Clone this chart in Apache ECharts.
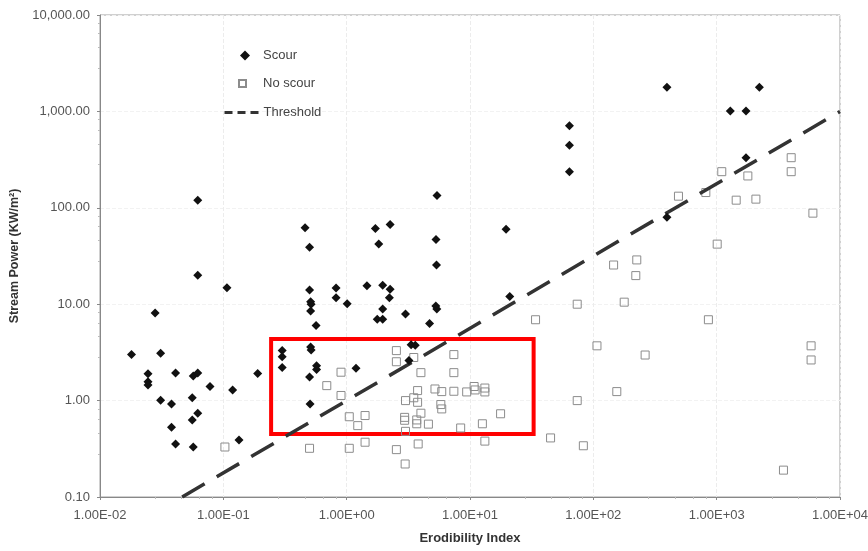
<!DOCTYPE html>
<html>
<head>
<meta charset="utf-8">
<script src="https://cdn.jsdelivr.net/npm/echarts@6/dist/echarts.min.js"></script>
<style>
  html, body { margin: 0; padding: 0; background: #fff; }
  #chart { width: 868px; height: 551px; }
</style>
</head>
<body>
<div id="chart"></div>
<script>
// tick labels (one per decade)
var xTickLabels = ['1.00E-02', '1.00E-01', '1.00E+00', '1.00E+01', '1.00E+02', '1.00E+03', '1.00E+04'];
var yTickLabels = ['0.10', '1.00', '10.00', '100.00', '1,000.00', '10,000.00'];

// [erodibility index, stream power]
var scour = [
  [0.062, 120], [0.062, 20], [0.107, 14.8], [0.028, 8.1], [0.018, 3.0], [0.031, 3.1],
  [0.0245, 1.9], [0.0245, 1.57], [0.0245, 1.45], [0.041, 1.93], [0.057, 1.8], [0.062, 1.93],
  [0.078, 1.4], [0.119, 1.29], [0.19, 1.91], [0.031, 1.01], [0.038, 0.92], [0.056, 1.07],
  [0.062, 0.74], [0.056, 0.63], [0.038, 0.53], [0.041, 0.355], [0.057, 0.33], [0.134, 0.39],
  [0.46, 62], [0.50, 39], [1.71, 61], [2.25, 67], [1.82, 42], [5.4, 134], [5.3, 47], [5.35, 25.5],
  [0.50, 14], [0.51, 10.6], [0.515, 10.0], [0.51, 8.5], [0.565, 6.0], [0.82, 14.7], [0.82, 11.7],
  [1.01, 10.1], [1.46, 15.5], [1.96, 15.7], [2.25, 14.3], [2.22, 11.7], [1.96, 8.9], [1.77, 7.0],
  [1.96, 7.0], [3.0, 7.9], [5.28, 9.6], [5.38, 8.9], [4.7, 6.3],
  [0.30, 3.3], [0.30, 2.85], [0.30, 2.2], [0.51, 3.6], [0.515, 3.35], [0.57, 2.3], [0.57, 2.1],
  [0.50, 1.76], [1.19, 2.16], [0.505, 0.92], [3.33, 3.8], [3.6, 3.75], [3.2, 2.6],
  [19.6, 60], [21, 12], [64, 710], [64, 445], [64, 237], [395, 1780], [2220, 1780],
  [1290, 1010], [1730, 1010], [1730, 330], [395, 80]
];

var noScour = [
  [0.103, 0.33], [0.50, 0.32], [0.69, 1.43], [0.90, 1.97], [0.90, 1.13], [1.05, 0.68], [1.41, 0.70],
  [1.23, 0.55], [1.05, 0.32], [1.41, 0.37], [2.53, 3.3], [2.53, 2.53], [3.5, 2.8], [4.0, 1.95],
  [7.4, 3.0], [7.4, 1.95], [3.76, 1.27], [5.2, 1.32], [5.9, 1.24], [7.4, 1.25], [9.4, 1.23],
  [10.8, 1.40], [11, 1.29], [13.2, 1.35], [13.2, 1.23], [3.0, 1.0], [3.5, 1.07], [3.76, 0.96],
  [5.8, 0.91], [5.9, 0.82], [4.0, 0.74], [2.95, 0.67], [2.95, 0.625], [3.7, 0.63], [3.7, 0.575],
  [4.6, 0.57], [8.4, 0.52], [12.6, 0.575], [17.7, 0.73], [3.0, 0.48], [3.8, 0.355], [13.2, 0.38],
  [2.53, 0.31], [2.98, 0.22], [34, 6.9], [45, 0.41], [83, 0.34], [74, 1.0], [155, 1.24],
  [107, 3.7], [263, 2.97], [74, 10], [178, 10.5], [146, 25.5], [225, 28.8], [221, 19.8],
  [857, 6.9], [1010, 42], [490, 132], [817, 144], [1440, 120], [2080, 123], [1100, 237],
  [1790, 214], [4020, 331], [4020, 237], [6030, 88], [5830, 3.7], [5830, 2.64], [3480, 0.19]
];

var threshold = [[0.0464, 0.1], [10000, 1000]];

// highlighted box (corners)
var boxCorners = [[0.244, 4.36], [32.8, 0.451]];

var font = 'Arial, "Liberation Sans", sans-serif';
var legendText = { fontFamily: font, fontSize: 13, color: '#444' };

var myChart = echarts.init(document.getElementById('chart'));
var option = {
  backgroundColor: '#fff',
  animation: false,
  textStyle: { fontFamily: font },
  grid: {
    left: 100, right: 28, top: 15, bottom: 54,
    outerBoundsMode: 'none',
    show: true, borderColor: '#a0a0a0', borderWidth: 1
  },
  legend: [
    {
      data: ['Scour'], left: 235, top: 44,
      itemWidth: 10, itemHeight: 10,
      textStyle: Object.assign({ padding: [0, 0, 0, 8] }, legendText)
    },
    {
      data: ['No scour'], left: 233, top: 72,
      itemWidth: 7, itemHeight: 7,
      textStyle: Object.assign({ padding: [0, 0, 0, 12] }, legendText)
    },
    {
      data: [{ name: 'Threshold', itemStyle: { opacity: 0 } }], left: 218, top: 101,
      itemWidth: 34, itemHeight: 10,
      lineStyle: { color: '#333', width: 3, type: [8, 5] },
      textStyle: Object.assign({ padding: [0, 0, 0, 0] }, legendText)
    }
  ],
  xAxis: {
    type: 'log',
    logBase: 10,
    min: 0.01,
    max: 10000,
    splitNumber: 6,
    name: 'Erodibility Index',
    nameLocation: 'middle',
    nameGap: 35,
    nameTextStyle: { fontFamily: font, fontSize: 13, fontWeight: 'bold', color: '#333' },
    axisLine: { lineStyle: { color: '#888' } },
    axisTick: { show: true, length: 3, lineStyle: { color: '#888' } },
    minorTick: { show: true, length: 2, splitNumber: 5, lineStyle: { color: '#bbb' } },
    splitLine: { show: true, lineStyle: { color: '#ececec', type: 'dashed' } },
    axisLabel: {
      fontFamily: font, fontSize: 13, color: '#555', margin: 12,
      formatter: function (v) { return xTickLabels[Math.round(Math.log10(v)) + 2]; }
    }
  },
  yAxis: {
    type: 'log',
    logBase: 10,
    min: 0.1,
    max: 10000,
    splitNumber: 5,
    name: 'Stream Power (KW/m\u00b2)',
    nameLocation: 'middle',
    nameGap: 78,
    nameTextStyle: { fontFamily: font, fontSize: 12.5, fontWeight: 'bold', color: '#333' },
    axisLine: { show: true, lineStyle: { color: '#888' } },
    axisTick: { show: true, length: 3, lineStyle: { color: '#888' } },
    minorTick: { show: true, length: 2, splitNumber: 5, lineStyle: { color: '#bbb' } },
    splitLine: { show: true, lineStyle: { color: '#f2f2f2', type: 'dashed' } },
    axisLabel: {
      fontFamily: font, fontSize: 13, color: '#555', margin: 10,
      formatter: function (v) { return yTickLabels[Math.round(Math.log10(v)) + 1]; }
    }
  },
  series: [
    {
      name: 'No scour',
      type: 'scatter',
      symbol: 'rect',
      symbolSize: 8,
      z: 2,
      itemStyle: { color: 'rgba(255,255,255,0)', borderColor: '#8c8c8c', borderWidth: 1, opacity: 1 },
      data: noScour,
      markArea: {
        silent: true,
        itemStyle: { color: 'rgba(0,0,0,0)', borderColor: '#ff0000', borderWidth: 4 },
        data: [[{ coord: boxCorners[0] }, { coord: boxCorners[1] }]]
      }
    },
    {
      name: 'Threshold',
      type: 'line',
      z: 3,
      symbol: 'none',
      showSymbol: false,
      lineStyle: { color: '#333', width: 3.5, type: [26, 14] },
      itemStyle: { color: '#333' },
      data: threshold
    },
    {
      name: 'Scour',
      type: 'scatter',
      symbol: 'diamond',
      symbolSize: 9,
      z: 4,
      itemStyle: { color: '#111', opacity: 1 },
      data: scour
    }
  ]
};
myChart.setOption(option);
</script>
</body>
</html>
